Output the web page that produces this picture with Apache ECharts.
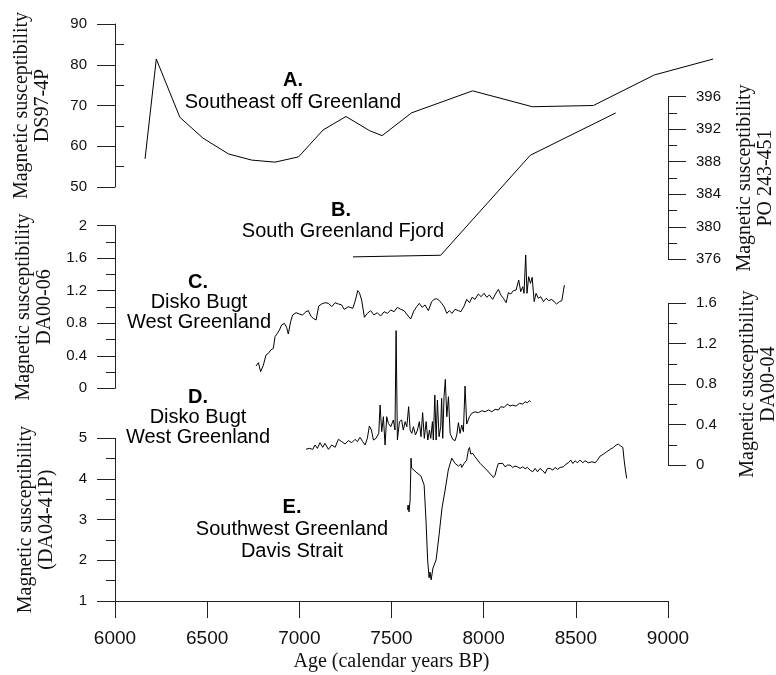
<!DOCTYPE html>
<html><head><meta charset="utf-8">
<script src="https://cdn.jsdelivr.net/npm/echarts@6/dist/echarts.min.js"></script>
<style>html,body{margin:0;padding:0;background:#fff}#c{width:776px;height:675px}</style>
</head><body><div id="c"></div>
<script>
// ---- Data (Age in calendar years BP, magnetic susceptibility) ----
const xTicks = [6000, 6500, 7000, 7500, 8000, 8500, 9000];
const aTicks = [50, 60, 70, 80, 90];
const aMinor = [55, 65, 75, 85];
const bTicks = [376, 380, 384, 388, 392, 396];
const bMinor = [378, 382, 386, 390, 394];
const cTicks = [0, 0.4, 0.8, 1.2, 1.6, 2];
const cMinor = [0.2, 0.6, 1.0, 1.4, 1.8];
const dTicks = [0, 0.4, 0.8, 1.2, 1.6];
const dMinor = [0.2, 0.6, 1.0, 1.4];
const eTicks = [1, 2, 3, 4, 5];
const eMinor = [1.5, 2.5, 3.5, 4.5];

const aAge = [6163,6224,6352,6477,6616,6742,6868,6996,7129,7253,7382,7449,7609,7940,8264,8595,8926,9245];
const aVal = [56.9,81.4,67.1,62.0,58.1,56.6,56.1,57.4,64.0,67.3,63.8,62.6,68.2,73.6,69.7,70.0,77.5,81.4];

const bAge = [7291,7767,8253,8716];
const bVal = [376.3,376.5,388.8,394.0];

const cAge = [6765,6778,6790,6805,6819,6832,6845,6859,6868,6881,6892,6904,6919,6931,6940,6953,6964,6982,7000,7018,7036,7049,7062,7076,7091,7105,7121,7139,7158,7176,7194,7212,7230,7243,7266,7290,7302,7317,7326,7338,7353,7369,7387,7405,7423,7441,7460,7478,7496,7514,7532,7550,7568,7586,7604,7622,7637,7651,7666,7682,7700,7718,7731,7745,7760,7772,7785,7800,7814,7828,7845,7863,7876,7894,7908,7923,7937,7953,7971,7986,8002,8017,8031,8049,8064,8080,8093,8107,8122,8134,8147,8161,8176,8190,8201,8212,8219,8228,8235,8244,8254,8263,8274,8284,8297,8310,8324,8339,8353,8368,8382,8396,8411,8424,8433,8438];
const cVal = [0.274,0.315,0.204,0.286,0.409,0.43,0.471,0.491,0.635,0.676,0.717,0.779,0.799,0.75,0.668,0.82,0.902,0.93,0.914,0.902,0.942,0.955,0.889,0.86,0.84,1.012,1.037,1.053,1.045,1.004,1.053,1.037,1.025,0.971,1.004,0.983,1.066,1.201,1.176,1.086,0.873,0.922,0.955,0.902,0.93,0.889,0.942,0.922,0.963,0.942,0.996,0.971,0.955,0.902,0.852,0.955,1.004,1.045,0.996,1.025,0.955,1.066,1.094,1.102,1.078,1.045,1.004,0.922,0.955,0.922,0.971,0.955,0.942,1.012,1.094,1.053,1.119,1.094,1.16,1.127,1.168,1.119,1.148,1.094,1.16,1.217,1.148,1.107,1.053,1.176,1.16,1.201,1.209,1.332,1.189,1.25,1.168,1.64,1.168,1.373,1.291,1.365,1.066,1.168,1.107,1.127,1.066,1.107,1.078,1.094,1.066,1.037,1.066,1.078,1.086,1.27];

const dAge = [7036,7054,7073,7085,7098,7112,7127,7139,7158,7176,7194,7212,7230,7248,7266,7284,7302,7315,7329,7344,7357,7369,7380,7391,7402,7416,7431,7438,7447,7456,7465,7474,7483,7496,7510,7519,7525,7532,7543,7555,7564,7574,7583,7593,7601,7610,7619,7630,7641,7651,7660,7669,7678,7688,7697,7706,7713,7722,7727,7735,7742,7749,7758,7767,7772,7778,7785,7792,7800,7809,7818,7832,7845,7854,7863,7872,7881,7890,7899,7908,7923,7935,7953,7971,7990,8008,8026,8044,8062,8080,8093,8111,8129,8143,8158,8176,8194,8212,8225,8237,8248,8255];
const dVal = [0.155,0.165,0.155,0.198,0.165,0.221,0.175,0.214,0.155,0.198,0.175,0.254,0.231,0.208,0.241,0.221,0.254,0.231,0.274,0.231,0.198,0.264,0.386,0.346,0.247,0.264,0.313,0.593,0.33,0.478,0.198,0.478,0.412,0.379,0.445,0.346,1.33,0.248,0.429,0.445,0.346,0.429,0.379,0.577,0.346,0.313,0.379,0.297,0.346,0.429,0.28,0.518,0.264,0.429,0.247,0.346,0.264,0.429,0.247,0.692,0.247,0.643,0.28,0.379,0.659,0.264,0.676,0.847,0.478,0.676,0.313,0.254,0.241,0.297,0.419,0.313,0.396,0.33,0.781,0.405,0.478,0.511,0.527,0.518,0.537,0.527,0.544,0.527,0.551,0.544,0.577,0.57,0.603,0.583,0.593,0.583,0.61,0.603,0.626,0.616,0.636,0.626];

const eAge = [7587,7590,7595,7601,7606,7609,7633,7660,7677,7687,7696,7704,7709,7715,7725,7742,7758,7774,7791,7808,7827,7845,7863,7876,7881,7894,7908,7917,7923,7930,7941,7953,7981,8017,8053,8062,8071,8080,8089,8104,8116,8129,8143,8158,8170,8183,8198,8212,8225,8237,8252,8266,8279,8292,8306,8321,8333,8346,8360,8375,8388,8400,8415,8433,8447,8460,8472,8484,8496,8509,8523,8538,8550,8568,8587,8605,8617,8632,8650,8668,8686,8704,8718,8731,8744,8755,8762,8769,8776];
const eVal = [3.24,3.36,3.19,3.48,4.51,4.27,4.17,4.07,3.85,2.99,2.01,1.57,1.71,1.52,1.81,2.01,2.62,3.29,3.73,4.22,4.51,4.382,4.317,4.366,4.284,4.382,4.464,4.71,4.776,4.612,4.628,4.546,4.382,4.219,4.038,4.096,4.26,4.382,4.341,4.382,4.3,4.341,4.341,4.284,4.317,4.3,4.26,4.3,4.251,4.284,4.218,4.177,4.26,4.177,4.26,4.202,4.137,4.26,4.26,4.218,4.284,4.235,4.284,4.3,4.366,4.399,4.464,4.382,4.448,4.399,4.464,4.399,4.448,4.399,4.423,4.399,4.464,4.563,4.612,4.67,4.726,4.776,4.833,4.857,4.808,4.776,4.464,4.218,4.014];

// ---- Layout ----
const SANS = 'Liberation Sans', SERIF = 'Liberation Serif';
const AX = '#222';
const pairs = (xs, ys) => xs.slice(0, Math.min(xs.length, ys.length)).map((x, i) => [x, ys[i]]);
const xMin = xTicks[0], xMax = xTicks[xTicks.length - 1];
const pxPerYr = 553 / (xMax - xMin);
const L = 115;

const g = (top, width, height) => ({ left: L, top, width, height, outerBoundsMode: 'none', containLabel: false });
const grids = [
  g(24, (9300 - xMin) * pxPerYr, 163),
  g(96.7, 553, 162.6),
  g(225.7, 553, 162.6),
  g(303.3, 553, 161.7),
  g(438.3, 553, 162.7)
];

const hiddenX = (gi, max) => ({ type: 'value', gridIndex: gi, min: xMin, max: max, show: false });

function yAx(gi, ticks, pos, name, gap) {
  return {
    type: 'value', gridIndex: gi, position: pos, offset: 0,
    min: ticks[0], max: ticks[ticks.length - 1], interval: ticks[1] - ticks[0],
    axisLine: { show: true, onZero: false, lineStyle: { color: AX, width: 1 } },
    axisTick: { show: true, inside: false, length: 18, lineStyle: { color: AX, width: 1 } },
    minorTick: { show: false },
    splitLine: { show: false },
    axisLabel: { show: true, margin: 28, fontFamily: SANS, fontSize: 15, color: '#111' },
    name: name, nameLocation: 'middle', nameRotate: 90, nameGap: gap,
    nameTextStyle: { fontFamily: SERIF, fontSize: 20, lineHeight: 21, color: '#111' }
  };
}
// overlay axis that only draws the short intermediate ticks
function minorAx(gi, ticks, minor, pos, inside) {
  return {
    type: 'value', gridIndex: gi, position: pos, offset: 0,
    min: ticks[0], max: ticks[ticks.length - 1], interval: (ticks[1] - ticks[0]) / 2,
    axisLine: { show: false, onZero: false }, axisLabel: { show: false }, splitLine: { show: false },
    minorTick: { show: false },
    axisTick: { show: true, inside: inside, length: 9, customValues: minor, lineStyle: { color: AX, width: 1 } }
  };
}

const yAxes = [
  yAx(0, aTicks, 'left', 'Magnetic susceptibility\nDS97-4P', 62),
  minorAx(0, aTicks, aMinor, 'left', true),
  yAx(1, bTicks, 'right', 'Magnetic susceptibility\nPO 243-451', 66),
  minorAx(1, bTicks, bMinor, 'right', false),
  yAx(2, cTicks, 'left', 'Magnetic susceptibility\nDA00-06', 60),
  minorAx(2, cTicks, cMinor, 'left', false),
  yAx(3, dTicks, 'right', 'Magnetic susceptibility\nDA00-04', 69),
  minorAx(3, dTicks, dMinor, 'right', false),
  yAx(4, eTicks, 'left', 'Magnetic susceptibility\n(DA04-41P)', 58),
  minorAx(4, eTicks, eMinor, 'left', false)
];

const xAxes = [
  hiddenX(0, 9300), hiddenX(1, xMax), hiddenX(2, xMax), hiddenX(3, xMax),
  { type: 'value', gridIndex: 4, min: xMin, max: xMax, interval: xTicks[1] - xTicks[0],
    axisLine: { show: true, onZero: false, lineStyle: { color: AX, width: 1 } },
    axisTick: { show: true, length: 17, lineStyle: { color: AX, width: 1 } },
    splitLine: { show: false },
    axisLabel: { margin: 28, fontFamily: SANS, fontSize: 19, color: '#111', formatter: v => String(v) },
    name: 'Age (calendar years BP)', nameLocation: 'middle', nameGap: 51,
    nameTextStyle: { fontFamily: SERIF, fontSize: 20, color: '#111' } }
];

const line = (name, xi, yi, data) => ({
  name, type: 'line', xAxisIndex: xi, yAxisIndex: yi, data, symbol: 'none',
  lineStyle: { color: '#000', width: 1 }, silent: true
});

const txt = (t, x, y, bold) => ({
  type: 'text', x, y, silent: true,
  style: { text: t, fill: '#000', font: (bold ? 'bold ' : '') + '20px "' + SANS + '"',
           align: 'center', verticalAlign: 'middle', textAlign: 'center', textVerticalAlign: 'middle' }
});

const chart = echarts.init(document.getElementById('c'), null, { renderer: 'canvas' });
chart.setOption({
  animation: false,
  backgroundColor: '#fff',
  grid: grids,
  xAxis: xAxes,
  yAxis: yAxes,
  series: [
    line('A', 0, 0, pairs(aAge, aVal)),
    line('B', 1, 2, pairs(bAge, bVal)),
    line('C', 2, 4, pairs(cAge, cVal)),
    line('D', 3, 6, pairs(dAge, dVal)),
    line('E', 4, 8, pairs(eAge, eVal))
  ],
  graphic: [
    txt('A.', 293, 80, true), txt('Southeast off Greenland', 293, 102),
    txt('B.', 341, 210, true), txt('South Greenland Fjord', 343, 231),
    txt('C.', 198, 282, true), txt('Disko Bugt', 199, 302), txt('West Greenland', 199, 322),
    txt('D.', 198, 397, true), txt('Disko Bugt', 198, 417), txt('West Greenland', 198, 437),
    txt('E.', 292, 507, true), txt('Southwest Greenland', 292, 529), txt('Davis Strait', 292, 551)
  ]
});
</script></body></html>
